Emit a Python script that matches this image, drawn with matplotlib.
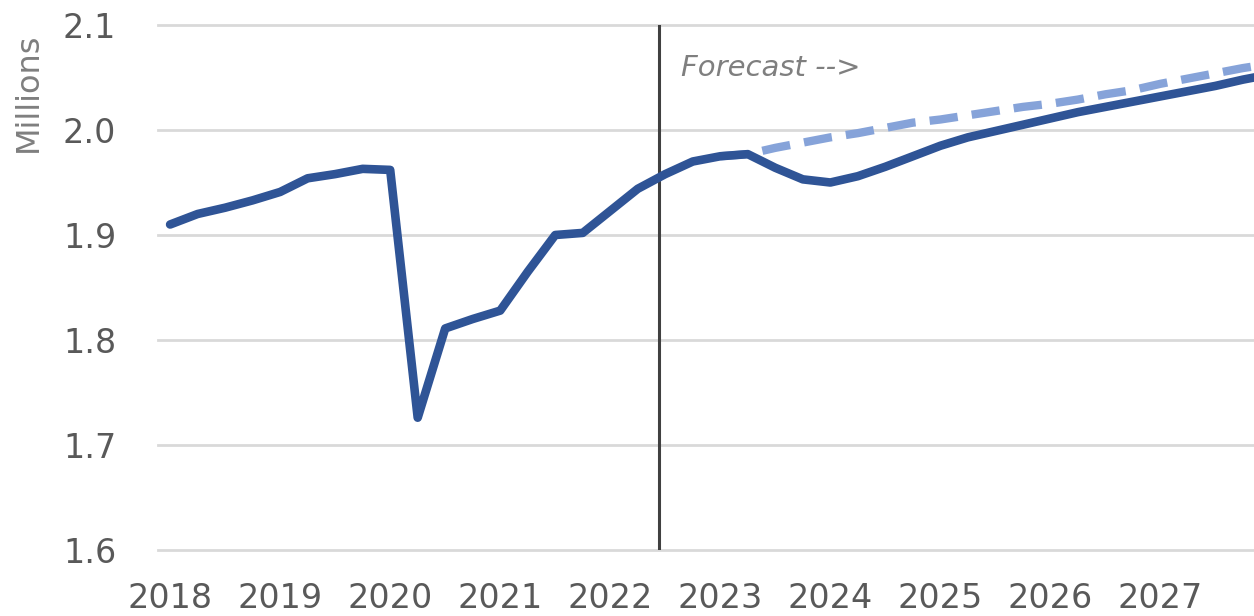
import numpy as np
import matplotlib
matplotlib.use("Agg")
import matplotlib.pyplot as plt

# quarterly series, 2018Q1 .. 2028Q1 (millions)
start_year = 2018
actual = [
    1.910, 1.920, 1.926, 1.933,   # 2018
    1.941, 1.954, 1.958, 1.963,   # 2019
    1.962, 1.726, 1.811, 1.820,   # 2020
    1.828, 1.865, 1.900, 1.902,   # 2021
    1.923, 1.944, 1.958, 1.970,   # 2022
    1.975, 1.977, 1.964, 1.953,   # 2023
    1.950, 1.956, 1.965, 1.975,   # 2024
    1.985, 1.993, 1.999, 2.005,   # 2025
    2.011, 2.017, 2.022, 2.027,   # 2026
    2.032, 2.037, 2.042, 2.048,   # 2027
    2.053,                        # 2028
]
# previous forecast, starts at 2023Q1
baseline_start = 20
baseline = [
    1.975, 1.977, 1.983, 1.988,
    1.993, 1.997, 2.002, 2.007,
    2.010, 2.014, 2.018, 2.022,
    2.025, 2.029, 2.034, 2.038,
    2.044, 2.049, 2.054, 2.059,
    2.063,
]
forecast_start = 2022.44
year_labels = [str(y) for y in range(2018, 2028)]
y_ticks = [1.6, 1.7, 1.8, 1.9, 2.0, 2.1]

x_actual = start_year + np.arange(len(actual)) / 4
x_baseline = start_year + (baseline_start + np.arange(len(baseline))) / 4

fig = plt.figure(figsize=(12.54, 6.16), dpi=100)
ax = fig.add_axes([158 / 1254, 66 / 616, 1 - 158 / 1254, 525 / 616])

ax.plot(x_baseline, baseline, color="#86A3D9", lw=6, ls=(0, (3.4, 1.7)),
        dash_capstyle="butt", zorder=3)
ax.plot(x_actual, actual, color="#2F5496", lw=6.2, solid_capstyle="round",
        solid_joinstyle="round", zorder=4)

ax.axvline(forecast_start, color="#404040", lw=2.2, zorder=2)
ax.text(forecast_start + 0.2, 2.059, "Forecast -->", fontsize=21, style="italic",
        color="#7F7F7F", va="center", ha="left")

ax.set_xlim(2017.89, 2027.85)
ax.set_ylim(1.6, 2.1)
ax.set_yticks(y_ticks)
ax.set_yticklabels([f"{v:.1f}" for v in y_ticks])
ax.set_xticks(range(2018, 2028))
ax.set_xticklabels(year_labels)
ax.grid(axis="y", color="#D9D9D9", lw=2)
for g in ax.get_ygridlines():
    g.set_clip_on(False)
ax.set_axisbelow(True)
for s in ax.spines.values():
    s.set_visible(False)
ax.tick_params(axis="both", length=0, labelsize=24, labelcolor="#595959")
ax.tick_params(axis="x", pad=23)
ax.tick_params(axis="y", pad=30)

fig.text(28 / 1254, 1 - 92 / 616, "Millions", rotation=90, ha="center",
         va="center", fontsize=23, color="#7F7F7F")

fig.savefig("out.png", dpi=100)
